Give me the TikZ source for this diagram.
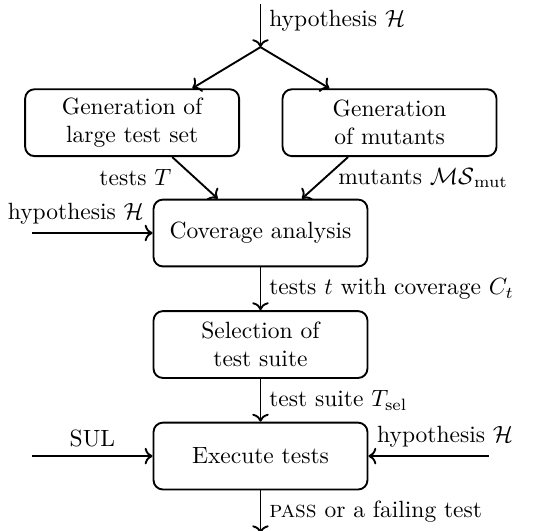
\documentclass[tikz,border=0pt]{standalone}
\usetikzlibrary{positioning, arrows.meta}

\begin{document}
\begin{tikzpicture}[
    node distance=0.64cm,
    box/.style={rectangle, draw, rounded corners, thick, align=center, minimum width=3.2cm, minimum height=1cm},
    arrow/.style={->, thick}
]
\useasboundingbox (-3.896,-4.442) rectangle (4.27,3.485);

% Top Row (Generation)
\coordinate (top) at (0,3.425);
\coordinate (split) at (0,2.78);
\node[box] (gen_tests) at (-1.92,1.65) {Generation of\\large test set};
\node[box] (gen_mut) at (1.93,1.65) {Generation\\of mutants};

% Middle Column
\node[box] (cov) at (0,0) {Coverage analysis};
\node[box, below=of cov] (sel) {Selection of\\test suite};
\node[box, below=of sel] (exec) {Execute tests};

% Free ends
\coordinate[left=1.8cm of cov.west] (hyp_in);
\coordinate[left=1.8cm of exec.west] (sul_in);
\coordinate[right=1.8cm of exec.east] (hyp_in2);
\coordinate[below=0.64cm of exec.south] (out);

% Connections
\draw[arrow] (top) -- node[pos=0.4, right] (lbl_hyp) {hypothesis $\mathcal{H}$} (split);
\draw[arrow] (split) -- ([xshift=0.9cm]gen_tests.north);
\draw[arrow] (split) -- ([xshift=-0.9cm]gen_mut.north);
\draw[arrow] ([xshift=0.6cm]gen_tests.south) -- node[left=0.22cm] (lbl_tests) {tests $T$} ([xshift=-0.64cm]cov.north);
\draw[arrow] ([xshift=-0.62cm]gen_mut.south) -- node[right=0.07cm] (lbl_mut) {mutants $\mathcal{MS}_{\mathrm{mut}}$} ([xshift=0.62cm]cov.north);
\draw[arrow] (hyp_in) -- node[pos=1, above left] (lbl_hyp_cov) {hypothesis $\mathcal{H}$} (cov.west);
\draw[arrow] (cov) -- node[right] (lbl_cov) {tests $t$ with coverage $C_t$} (sel);
\draw[arrow] (sel) -- node[right] (lbl_sel) {test suite $T_{\mathrm{sel}}$} (exec);
\draw[arrow] (sul_in) -- node[above] (lbl_sul) {SUL} (exec.west);
\draw[arrow] (hyp_in2) -- node[pos=1, above right] (lbl_hyp_exec) {hypothesis $\mathcal{H}$} (exec.east);
\draw[arrow] (exec) -- node[right] (lbl_out) {\textsc{pass} or a failing test} (out);

\end{tikzpicture}
\end{document}
